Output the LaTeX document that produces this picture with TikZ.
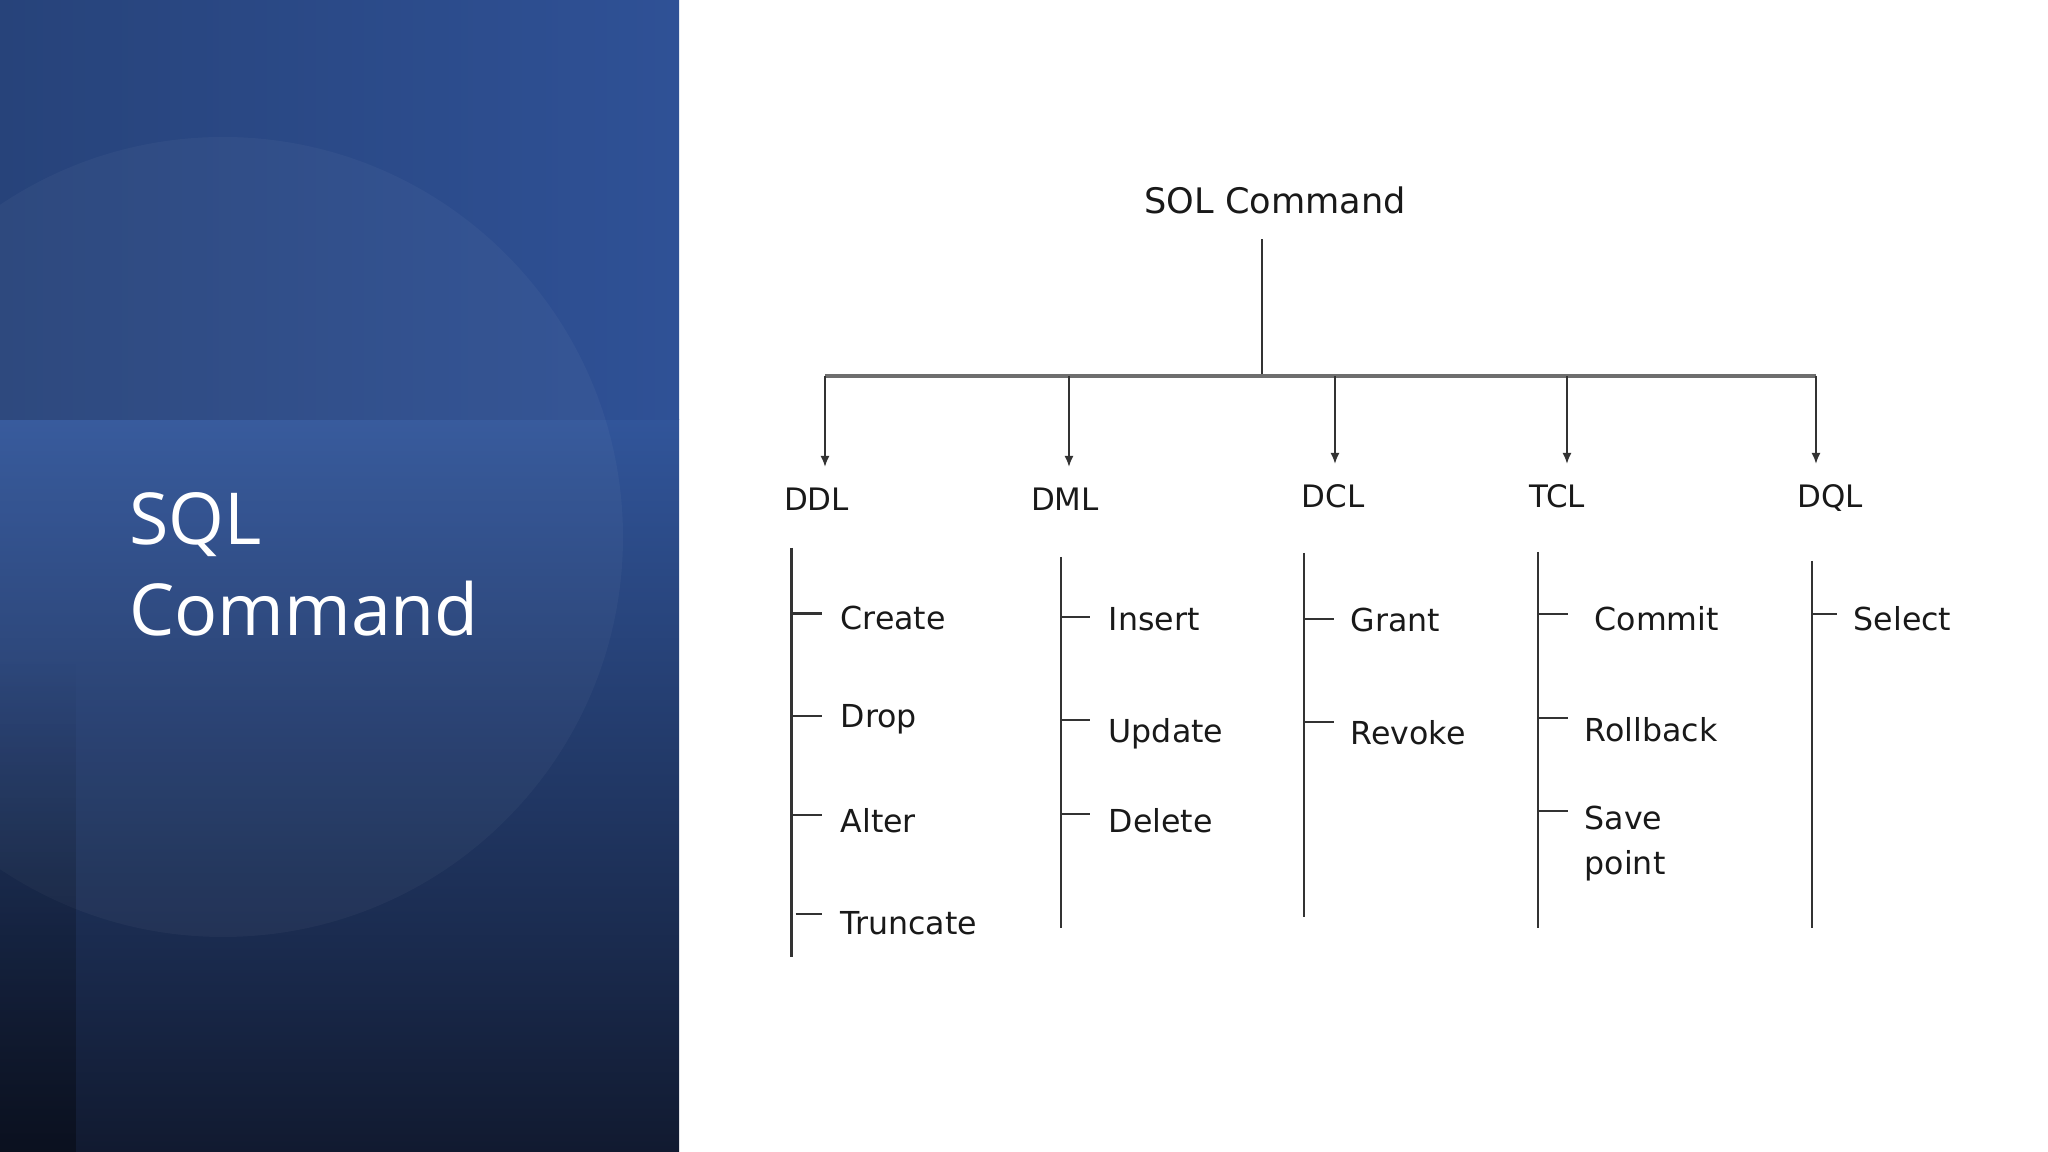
\documentclass[tikz,border=0pt]{standalone}
\usepackage{fontspec}
\usepackage{tikz}
\usetikzlibrary{positioning, arrows.meta, fadings}

\newfontfamily\diagfont{DejaVu Sans}
\newfontfamily\slidefont{Open Sans}

\definecolor{bandleft}{HTML}{27437A}
\definecolor{bandright}{HTML}{2F5196}
\definecolor{lowtop}{HTML}{31559A}
\definecolor{lowbottom}{HTML}{111A30}
\definecolor{inkgray}{HTML}{333333}
\definecolor{busgray}{HTML}{6E6E6E}

\begin{document}
\begin{tikzpicture}[
  font=\diagfont,
  slidetitle/.style={anchor=base west, align=left, inner sep=0pt, text=white, font=\slidefont\fontsize{20.4}{26.1}\selectfont},
  root/.style={inner sep=0pt, text=black!90, font=\diagfont\fontsize{10}{12}\selectfont},
  lang/.style={inner sep=0pt, text=black!90, text height=0.226cm, text depth=0pt, font=\diagfont\fontsize{8.8}{10}\selectfont},
  sub/.style={inner sep=0pt, text=black!90, font=\diagfont\fontsize{9}{12.8}\selectfont},
  item/.style={sub, anchor=west, text height=0.23cm, text depth=0pt},
  bus/.style={line width=0.9pt, draw=busgray},
  arrow/.style={-{Latex[length=1.1mm, width=0.9mm]}, line width=0.55pt, draw=inkgray, shorten >=0.2cm},
  stem/.style={line width=0.6pt, draw=inkgray},
  tick/.style={line width=0.6pt, draw=inkgray}
]
\useasboundingbox (0,0) rectangle (20.48,11.52);
\fill[white] (0,0) rectangle (20.48,11.52);

% --- Left panel ---
\fill[top color=lowtop, bottom color=lowbottom] (0,0) rectangle (6.79,7.32);
\fill[left color=bandleft, right color=bandright] (0,7.32) rectangle (6.79,11.52);
\begin{scope}
  \clip (0,0) rectangle (6.79,11.52);
  \fill[white, opacity=0.035] (2.23,6.15) circle (4.0);
\end{scope}
\fill[black, opacity=0.35, path fading=north] (0,0) rectangle (0.76,4.9);

% last line of the title sits on the base anchor
\node[slidetitle] (title) at (1.285,5.16) {SQL\\Command};

% --- Root and bus ---
\node[root] (root) at (12.75,9.52) {SOL Command};
\coordinate (hub) at (12.62,7.76);
\draw[stem, shorten <=0.25cm] (root.south -| hub) -- (hub);

\coordinate (b-ddl) at (8.25,7.76);
\coordinate (b-dml) at (10.69,7.76);
\coordinate (b-dcl) at (13.35,7.76);
\coordinate (b-tcl) at (15.67,7.76);
\coordinate (b-dql) at (18.16,7.76);
\draw[bus] (b-ddl) -- (b-dql);

% --- Command groups ---
\node[lang] (ddl) at (8.165,6.53) {DDL};
\node[lang] (dml) at (10.65,6.53) {DML};
\node[lang] (dcl) at (13.33,6.56) {DCL};
\node[lang] (tcl) at (15.57,6.56) {TCL};
\node[lang] (dql) at (18.30,6.56) {DQL};

\draw[arrow] (b-ddl) -- (b-ddl |- ddl.north);
\draw[arrow] (b-dml) -- (b-dml |- dml.north);
\draw[arrow] (b-dcl) -- (b-dcl |- dcl.north);
\draw[arrow] (b-tcl) -- (b-tcl |- tcl.north);
\draw[arrow] (b-dql) -- (b-dql |- dql.north);

% --- DDL ---
\coordinate (ddl-top) at (7.915,6.04);
\coordinate (ddl-bot) at (7.915,1.95);
\draw[stem] (ddl-top) -- (ddl-bot);
\node[item] (create) at (8.40,5.335) {Create};
\node[item] (drop) at (8.40,4.36) {Drop};
\node[item] (alter) at (8.40,3.31) {Alter};
\node[item] (truncate) at (8.40,2.29) {Truncate};
\draw[tick] ([yshift=0.05cm]create.west -| ddl-top) -- ++(0.3,0);
\draw[tick] (drop.west -| ddl-top) -- ++(0.3,0);
\draw[tick] ([yshift=0.06cm]alter.west -| ddl-top) -- ++(0.3,0);
\draw[tick] ([yshift=0.09cm, xshift=0.04cm]truncate.west -| ddl-top) -- ++(0.26,0);

% --- DML ---
\coordinate (dml-top) at (10.61,5.95);
\coordinate (dml-bot) at (10.61,2.24);
\draw[stem] (dml-top) -- (dml-bot);
\node[item] (insert) at (11.08,5.33) {Insert};
\node[item] (update) at (11.08,4.21) {Update};
\node[item] (delete) at (11.08,3.31) {Delete};
\draw[tick] ([yshift=0.02cm]insert.west -| dml-top) -- ++(0.29,0);
\draw[tick] ([yshift=0.11cm]update.west -| dml-top) -- ++(0.29,0);
\draw[tick] ([yshift=0.07cm]delete.west -| dml-top) -- ++(0.29,0);

% --- DCL ---
\coordinate (dcl-top) at (13.04,5.99);
\coordinate (dcl-bot) at (13.04,2.35);
\draw[stem] (dcl-top) -- (dcl-bot);
\node[item] (grant) at (13.50,5.32) {Grant};
\node[item] (revoke) at (13.50,4.19) {Revoke};
\draw[tick] ([yshift=0.01cm]grant.west -| dcl-top) -- ++(0.3,0);
\draw[tick] ([yshift=0.11cm]revoke.west -| dcl-top) -- ++(0.3,0);

% --- TCL ---
\coordinate (tcl-top) at (15.38,6.00);
\coordinate (tcl-bot) at (15.38,2.24);
\draw[stem] (tcl-top) -- (tcl-bot);
\node[item] (commit) at (15.94,5.33) {Commit};
\node[item] (rollback) at (15.84,4.22) {Rollback};
\node[sub, align=left, anchor=base west] (save) at (15.84,2.77) {Save\\point};
\draw[tick] ([yshift=0.05cm]commit.west -| tcl-top) -- ++(0.3,0);
\draw[tick] ([yshift=0.12cm]rollback.west -| tcl-top) -- ++(0.3,0);
\draw[tick] ([yshift=-0.055cm]save.north west -| tcl-top) -- ++(0.3,0);

% --- DQL ---
\coordinate (dql-top) at (18.12,5.91);
\coordinate (dql-bot) at (18.12,2.24);
\draw[stem] (dql-top) -- (dql-bot);
\node[item] (select) at (18.53,5.33) {Select};
\draw[tick] ([yshift=0.05cm]select.west -| dql-top) -- ++(0.25,0);

\end{tikzpicture}
\end{document}
